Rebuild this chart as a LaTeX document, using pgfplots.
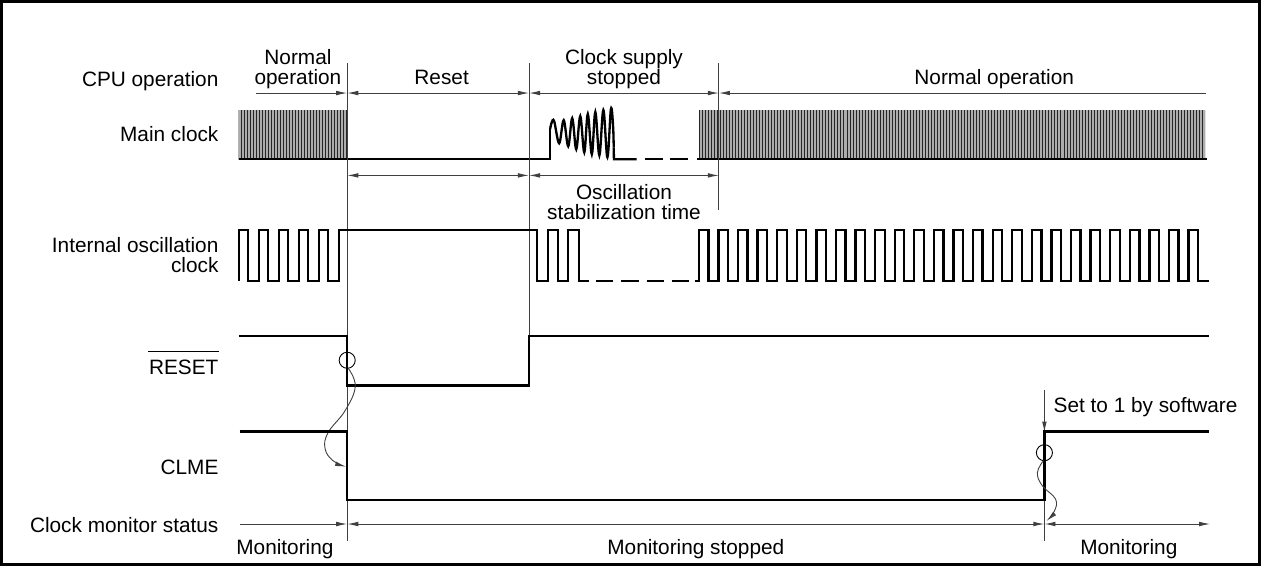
\documentclass[border=0pt]{standalone}
\usepackage{pgfplots}
\pgfplotsset{compat=1.18}
\usepackage{fontspec}
\setmainfont{Liberation Sans}
\usetikzlibrary{arrows.meta,patterns.meta}
\tikzset{
  sig/.style={line width=2.3pt, black, line join=miter, line cap=butt},
  refl/.style={line width=0.9pt, black!75},
  ah/.tip={Latex[length=11pt,width=4.6pt]},
  lbl/.style={font=\fontsize{20.7}{20}\selectfont, inner sep=0pt, text=black},
}
\begin{document}
\begin{tikzpicture}
\begin{axis}[
  width=1261pt, height=569pt, scale only axis,
  xmin=0, xmax=1261, ymin=0, ymax=569, y dir=reverse,
  hide axis, clip=false,
]
% frame
\draw[line width=3.2pt] (5,5) rectangle (1257,565);

% ---------- Main clock ----------
\addplot[draw=none, fill=black!32]
  coordinates {(241,113) (349,113) (349,162) (241,162)} -- cycle;
\addplot[draw=none, fill=black!32]
  coordinates {(699,113) (1203,113) (1203,162) (699,162)} -- cycle;
\addplot[draw=none, pattern={Lines[angle=90,distance=3pt,line width=0.8pt]}, pattern color=black!85]
  coordinates {(241,113) (349,113) (349,162) (241,162)} -- cycle;
\addplot[draw=none, pattern={Lines[angle=90,distance=3pt,line width=0.8pt]}, pattern color=black!85]
  coordinates {(699,113) (1203,113) (1203,162) (699,162)} -- cycle;
\addplot[sig] coordinates {(241,162) (551,162) (551,132)};
\addplot[sig, smooth, tension=0.6] coordinates {
  (551,132) (552.5,125.5) (555,124) (560,146) (564.5,123) (569,149) (573,121)
  (577,152) (581,119) (585,155) (588.5,117) (592.5,157) (596,115) (600,158)
  (604,113) (608,160) (611.5,112) (613.6,128) (614.3,150)};
\addplot[sig] coordinates {(614.3,150) (614.5,162) (637,162)};
\addplot[sig] coordinates {(645,162) (663,162)};
\addplot[sig] coordinates {(670,162) (688,162)};
\addplot[sig] coordinates {(697,162) (1205,162)};

% ---------- reference lines ----------
\draw[refl] (349,66) -- (349,542);
\draw[refl] (530,66) -- (530,338);
\draw[refl] (719,66) -- (719,212);
\draw[refl,-ah] (1043,392) -- (1043,434);
\draw[refl] (1043,434) -- (1043,542);

% ---------- CPU operation arrows ----------
\draw[refl,-ah] (258,96) -- (349,96);
\draw[refl,ah-ah] (349,96) -- (530,96);
\draw[refl,ah-ah] (530,96) -- (719,96);
\draw[refl,ah-] (719,96) -- (1204,96);

% oscillation stabilization arrows
\draw[refl,ah-ah] (349,178) -- (530,178);
\draw[refl,ah-ah] (530,178) -- (719,178);

% ---------- Internal oscillation clock ----------
\addplot[sig, const plot] coordinates {
  (241,283) (241,232) (250,283) (261,232) (270,283) (281,232) (290,283)
  (301,232) (310,283) (321,232) (330,283) (341,232) (538,283) (549,232)
  (559,283) (569,232) (580,283) (590,283)};
\addplot[sig] coordinates {(597,283) (614,283)};
\addplot[sig] coordinates {(622,283) (639,283)};
\addplot[sig] coordinates {(647,283) (664,283)};
\addplot[sig] coordinates {(672,283) (689,283)};
\addplot[sig, const plot] coordinates {
  (695,283) (699,232) (708.5,283) (718.5,232) (728,283) (738,232) (747.5,283)
  (757.5,232) (767,283) (777,232) (786.5,283) (796.5,232) (806,283) (816,232)
  (825.5,283) (835.5,232) (845,283) (855,232) (864.5,283) (874.5,232) (884,283)
  (894,232) (903.5,283) (913.5,232) (923,283) (933,232) (942.5,283) (952.5,232)
  (962,283) (972,232) (981.5,283) (991.5,232) (1001,283) (1011,232) (1020.5,283)
  (1030.5,232) (1040,283) (1050,232) (1059.5,283) (1069.5,232) (1079,283)
  (1089,232) (1098.5,283) (1108.5,232) (1118,283) (1128,232) (1137.5,283)
  (1147.5,232) (1157,283) (1167,232) (1176.5,283) (1186.5,232) (1196,283)
  (1207,283)};

% ---------- RESET ----------
\addplot[sig, const plot] coordinates {(241,338) (349,387) (530,338) (1207,338)};
\draw[line width=0.9pt] (349,362) circle[radius=8pt];
\draw[refl,-ah] plot[smooth, tension=0.7] coordinates {
  (350,370) (357,388) (347,412) (330,434) (327,450) (335,462) (348,468)};

% ---------- CLME ----------
\addplot[sig, const plot] coordinates {(242,433) (349,501) (1043,433) (1207,433)};
\draw[line width=0.9pt] (1043,454) circle[radius=8pt];
\draw[refl,-ah] plot[smooth, tension=0.7] coordinates {
  (1042,462) (1036,474) (1041,487) (1054,500) (1053,512) (1045,522)};

% ---------- Clock monitor status ----------
\draw[refl,-ah] (242,525) -- (349,525);
\draw[refl,ah-ah] (349,525) -- (1043,525);
\draw[refl,ah-ah] (1043,525) -- (1208,525);

% ---------- Left labels ----------
\node[lbl, anchor=base east] at (221,89.5) {CPU operation};
\node[lbl, anchor=base east] at (221,144) {Main clock};
\node[lbl, anchor=base east] at (221,255) {Internal oscillation};
\node[lbl, anchor=base east] at (221,275) {clock};
\node[lbl, anchor=base east] at (221,376) {RESET};
\draw[line width=0.9pt] (151,353) -- (221,353);
\node[lbl, anchor=base east] at (221,476) {CLME};
\node[lbl, anchor=base east] at (221,533) {Clock monitor status};

% ---------- Phase labels ----------
\node[lbl, anchor=base] at (300,68) {Normal};
\node[lbl, anchor=base] at (300,88) {operation};
\node[lbl, anchor=base] at (443,88) {Reset};
\node[lbl, anchor=base] at (624.5,68) {Clock supply};
\node[lbl, anchor=base] at (624.5,88) {stopped};
\node[lbl, anchor=base] at (993,88) {Normal operation};
\node[lbl, anchor=base] at (624.5,202) {Oscillation};
\node[lbl, anchor=base] at (624.5,222) {stabilization time};
\node[lbl, anchor=base west] at (1052,414) {Set to 1 by software};
\node[lbl, anchor=base] at (287,555) {Monitoring};
\node[lbl, anchor=base] at (696,555) {Monitoring stopped};
\node[lbl, anchor=base] at (1127,555) {Monitoring};
\end{axis}
\end{tikzpicture}
\end{document}
